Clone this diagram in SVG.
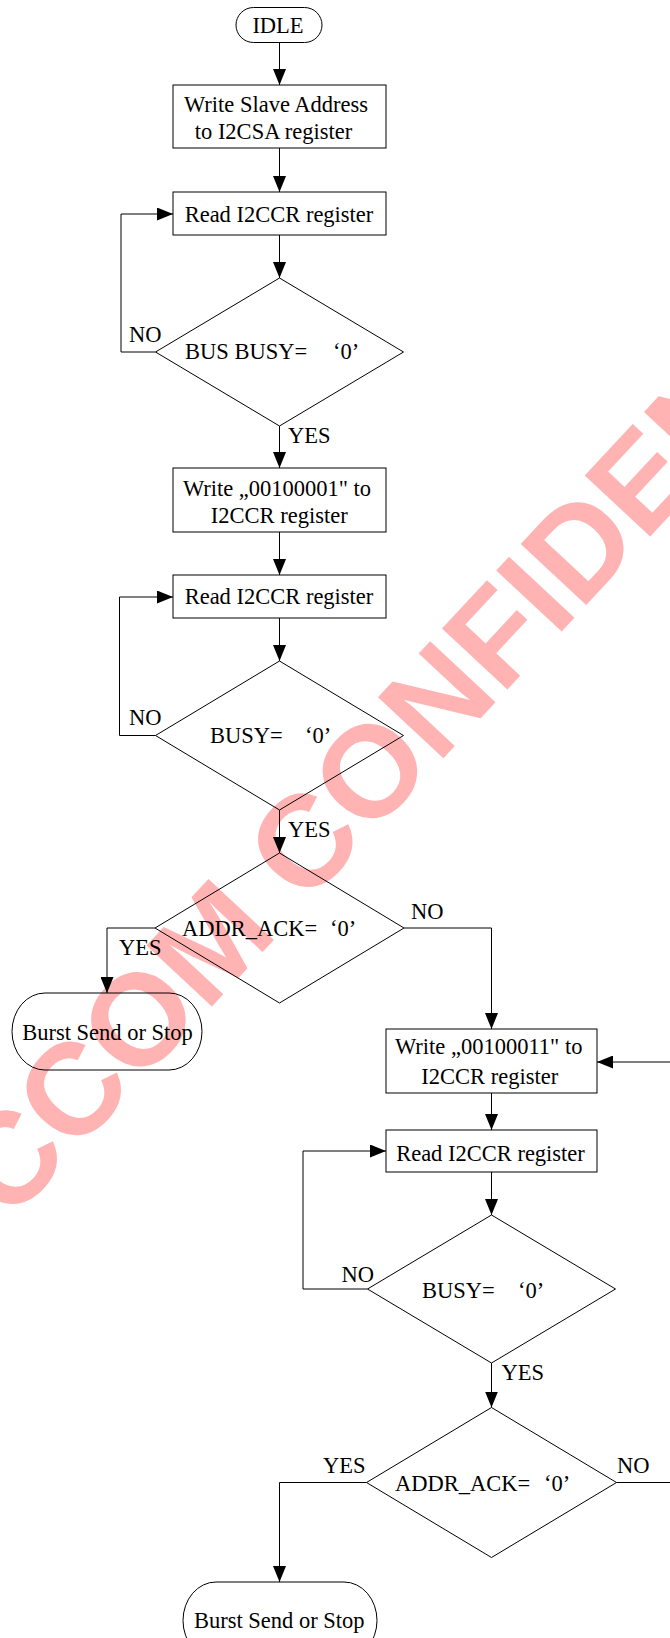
<svg xmlns="http://www.w3.org/2000/svg" width="670" height="1638" viewBox="0 0 670 1638">
  <defs>
    <marker id="arrow" markerUnits="userSpaceOnUse" markerWidth="16" markerHeight="13" refX="16" refY="6.5" orient="auto">
      <path d="M0,0 L16,6.5 L0,13 Z" fill="#000"/>
    </marker>
    <style>
      .shape { fill: none; stroke: #000; stroke-width: 1; }
      .conn { fill: none; stroke: #000; stroke-width: 1; }
      .arr { marker-end: url(#arrow); }
      text { font-family: "Liberation Serif", "Times New Roman", serif; font-size: 22.5px; fill: #000; }
      .c { text-anchor: middle; }
      .wm { font-family: "Liberation Sans", Arial, sans-serif; font-weight: bold; font-size: 130px; fill: #ffb3b3; }
    </style>
  </defs>

  <rect width="670" height="1638" fill="#fff"/>

  <!-- watermark, drawn beneath the chart -->
  <text class="wm" transform="translate(9,1224) rotate(-47)">CCOM CONFIDENTIAL</text>

  <!-- connectors -->
  <g id="connectors">
    <path class="conn arr" d="M279.5,43 V85"/>
    <path class="conn arr" d="M279.5,148 V192"/>
    <path class="conn arr" d="M279.5,235 V278"/>
    <path class="conn arr" d="M155.5,352 H121 V214 H173"/>
    <path class="conn arr" d="M279.5,426 V468"/>
    <path class="conn arr" d="M279.5,532 V575"/>
    <path class="conn arr" d="M279.5,618 V661"/>
    <path class="conn arr" d="M155.5,735.5 H119.5 V597 H173"/>
    <path class="conn arr" d="M279.5,810 V853"/>
    <path class="conn arr" d="M155,928 H107 V993"/>
    <path class="conn arr" d="M404,928 H491.5 V1029"/>
    <path class="conn arr" d="M670,1062 H597"/>
    <path class="conn arr" d="M491.5,1093 V1130"/>
    <path class="conn arr" d="M491.5,1172 V1215"/>
    <path class="conn arr" d="M367.5,1289 H303 V1151 H386"/>
    <path class="conn arr" d="M491.5,1363 V1407.5"/>
    <path class="conn arr" d="M366.5,1482.5 H279.5 V1582"/>
    <path class="conn" d="M616.5,1482.5 H670"/>
  </g>

  <!-- edge labels -->
  <g id="labels">
    <text x="129" y="341.5">NO</text>
    <text x="288" y="443">YES</text>
    <text x="129" y="725">NO</text>
    <text x="288" y="836.5">YES</text>
    <text x="411" y="919">NO</text>
    <text x="119" y="955">YES</text>
    <text x="341.5" y="1281.5">NO</text>
    <text x="501.5" y="1380">YES</text>
    <text x="323" y="1472.5">YES</text>
    <text x="617" y="1472.5">NO</text>
  </g>

  <g id="idle">
    <rect class="shape" x="236" y="7.5" width="86" height="35" rx="17.5"/>
    <text class="c" x="278" y="32.5">IDLE</text>
  </g>

  <g id="write-slave-address">
    <rect class="shape" x="173" y="85" width="213" height="63"/>
    <text class="c" x="276" y="111.5">Write Slave Address</text>
    <text class="c" x="273.5" y="139.3">to I2CSA register</text>
  </g>

  <g id="read-i2ccr-1">
    <rect class="shape" x="173" y="192" width="213" height="43"/>
    <text class="c" x="279" y="221.8">Read I2CCR register</text>
  </g>

  <g id="bus-busy-check">
    <polygon class="shape" points="279.5,278 403.5,352 279.5,426 155.5,352"/>
    <text x="185" y="359"><tspan>BUS BUSY=</tspan><tspan x="333">‘0’</tspan></text>
  </g>

  <g id="write-start">
    <rect class="shape" x="173" y="468" width="213" height="64"/>
    <text class="c" x="277" y="495.5">Write „00100001" to</text>
    <text class="c" x="279.3" y="522.5">I2CCR register</text>
  </g>

  <g id="read-i2ccr-2">
    <rect class="shape" x="173" y="575" width="213" height="43"/>
    <text class="c" x="279" y="604">Read I2CCR register</text>
  </g>

  <g id="busy-check-1">
    <polygon class="shape" points="279.5,661 403.5,735.5 279.5,810 155.5,735.5"/>
    <text x="210" y="742.5"><tspan>BUSY=</tspan><tspan x="305">‘0’</tspan></text>
  </g>

  <g id="ack-check-1">
    <polygon class="shape" points="279.5,853 404,928 279.5,1003 155,928"/>
    <text x="182" y="936"><tspan>ADDR_ACK=</tspan><tspan x="330">‘0’</tspan></text>
  </g>

  <g id="burst-send-1">
    <rect class="shape" x="12" y="993" width="190" height="77" rx="33" ry="38.5"/>
    <text class="c" x="107.5" y="1039.5">Burst Send or Stop</text>
  </g>

  <g id="write-restart">
    <rect class="shape" x="386" y="1029" width="211" height="64"/>
    <text class="c" x="488.7" y="1054">Write „00100011" to</text>
    <text class="c" x="489.7" y="1083.5">I2CCR register</text>
  </g>

  <g id="read-i2ccr-3">
    <rect class="shape" x="386" y="1130" width="211" height="42"/>
    <text class="c" x="490.5" y="1160.5">Read I2CCR register</text>
  </g>

  <g id="busy-check-2">
    <polygon class="shape" points="491.5,1215 615.5,1289 491.5,1363 367.5,1289"/>
    <text x="422" y="1297.5"><tspan>BUSY=</tspan><tspan x="518">‘0’</tspan></text>
  </g>

  <g id="ack-check-2">
    <polygon class="shape" points="491.5,1407.5 616.5,1482.5 491.5,1557.5 366.5,1482.5"/>
    <text x="395" y="1490.8"><tspan>ADDR_ACK=</tspan><tspan x="544">‘0’</tspan></text>
  </g>

  <g id="burst-send-2">
    <rect class="shape" x="183" y="1582" width="194" height="77" rx="33" ry="38.5"/>
    <text class="c" x="279.2" y="1628.3">Burst Send or Stop</text>
  </g>
</svg>
